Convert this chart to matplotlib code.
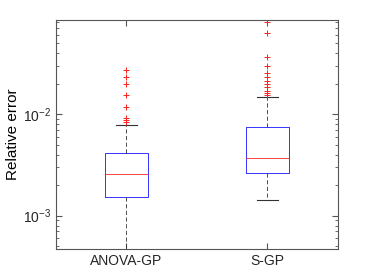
import matplotlib.pyplot as plt

plt.rcParams['font.family'] = ['Liberation Sans', 'DejaVu Sans']
plt.rcParams['mathtext.fontset'] = 'custom'
plt.rcParams['mathtext.rm'] = 'Liberation Sans'
plt.rcParams['mathtext.it'] = 'Liberation Sans'
plt.rcParams['mathtext.default'] = 'regular'
plt.rcParams['text.color'] = '#262626'
plt.rcParams['xtick.labelcolor'] = '#262626'
plt.rcParams['ytick.labelcolor'] = '#262626'

# box statistics
labels = ['ANOVA-GP', 'S-GP']
q1 = [1.54e-3, 2.61e-3]
med = [2.59e-3, 3.69e-3]
q3 = [4.16e-3, 7.5e-3]
whislo = [2.0e-4, 1.42e-3]
whishi = [7.74e-3, 1.48e-2]
fliers = [
    [2.73e-2, 2.30e-2, 1.96e-2, 1.55e-2, 1.18e-2, 9.2e-3, 8.73e-3, 8.34e-3],
    [8.0e-2, 6.32e-2, 3.67e-2, 2.99e-2, 2.52e-2, 2.32e-2, 2.13e-2, 1.98e-2,
     1.83e-2, 1.69e-2, 1.60e-2, 1.53e-2],
]

stats = []
for i in range(len(labels)):
    stats.append({'label': labels[i], 'q1': q1[i], 'med': med[i], 'q3': q3[i],
                  'whislo': whislo[i], 'whishi': whishi[i], 'fliers': fliers[i]})

fig = plt.figure(figsize=(3.74, 2.8), dpi=100)
ax = fig.add_axes([0.1497, 0.1107, 0.754, 0.8168])

ax.bxp(stats, positions=[1, 2], widths=0.3,
       boxprops=dict(color='#3333ff', linewidth=0.7),
       medianprops=dict(color='#ff4444', linewidth=0.7),
       whiskerprops=dict(color='#333333', linewidth=0.6, linestyle=(0, (5, 3))),
       capprops=dict(color='#333333', linewidth=0.8),
       flierprops=dict(marker='+', markeredgecolor='#ff2020', markersize=5,
                       markeredgewidth=0.7, linestyle='none'),
       capwidths=0.15)

ax.set_yscale('log')
ax.set_ylim(4.7e-4, 0.0838)
ax.set_xlim(0.5, 2.5)
ax.set_ylabel('Relative error', fontsize=11, labelpad=2)
ax.tick_params(axis='both', which='both', direction='in', top=True, right=True,
               color='#555555', labelsize=10)
ax.tick_params(axis='y', which='major', length=4)
ax.tick_params(axis='y', which='minor', length=2)
ax.tick_params(axis='x', length=4)
for s in ax.spines.values():
    s.set_color('#555555')
    s.set_linewidth(0.8)

fig.savefig('out.png', dpi=100)
